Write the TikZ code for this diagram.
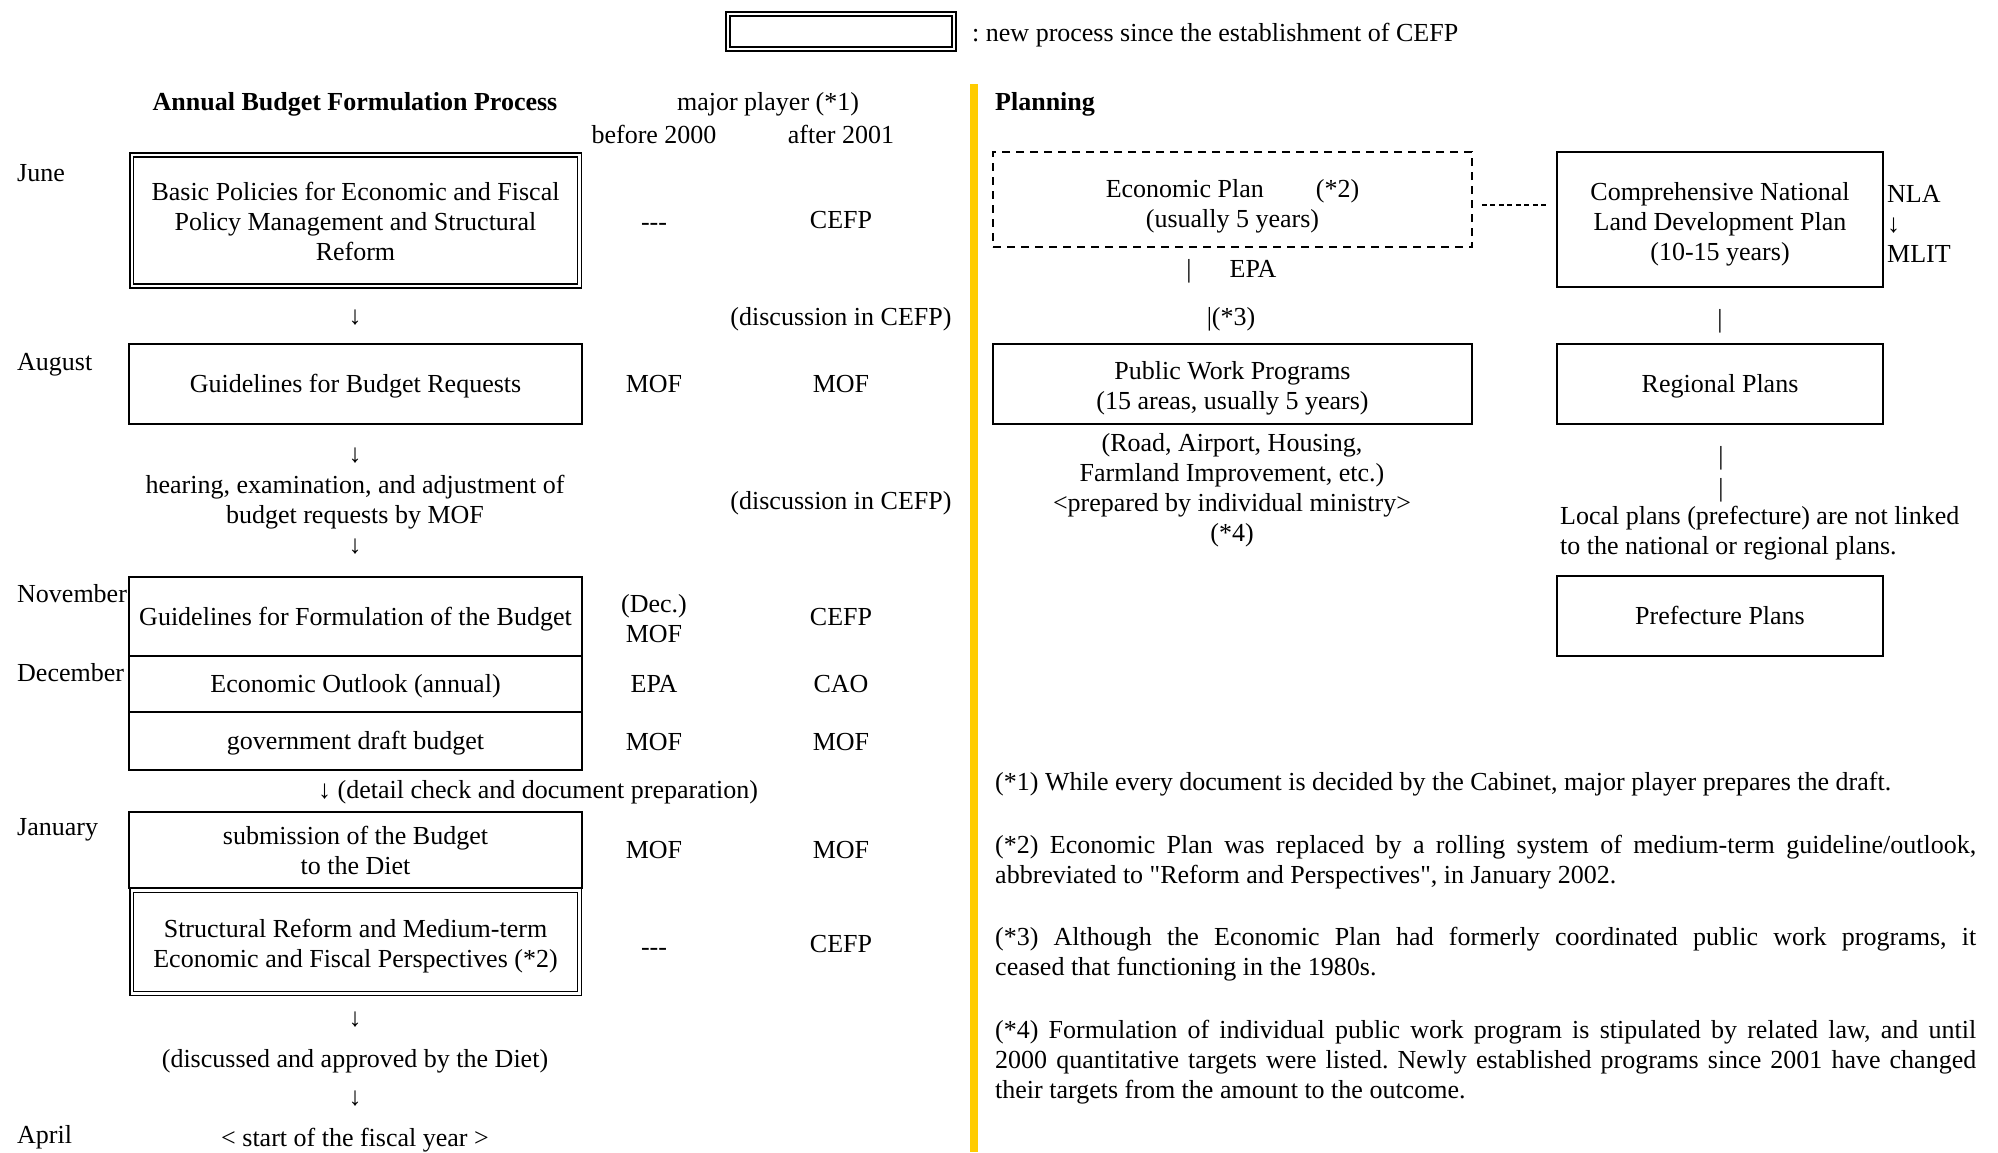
\documentclass[tikz,border=0pt]{standalone}
\usepackage{fontspec}
\setmainfont{Liberation Serif}[Ligatures=TeXOff]
\definecolor{yellowbar}{RGB}{255,204,0}
\newcommand\fsz{\fontsize{26}{30}\selectfont\frenchspacing}
\newcommand\topfill[1]{\rule{0pt}{#1}}
\begin{document}
\begin{tikzpicture}[x=1pt,y=-1pt,
  every node/.style={font=\fsz, inner sep=0pt},
  bold/.style={font=\fsz\bfseries},
  lbl/.style={text height=21pt, text depth=4pt},
  ml/.style={align=center, yshift=-2.5pt},
  mll/.style={align=left, yshift=-2.5pt},
  box/.style={draw, line width=1.6pt, minimum width=453pt, align=center},
  dbox/.style={draw, double, line width=1.4pt, double distance=2.4pt, minimum width=447.6pt, align=center},
  pbox/.style={draw, line width=1.6pt, align=center},
  dashbox/.style={pbox, dash pattern=on 8pt off 6pt},
  dotline/.style={line width=1.6pt, dash pattern=on 5pt off 3.5pt, shorten <=9pt, shorten >=8pt},
]
\useasboundingbox (0,0) rectangle (1998,1152);
\fill[white] (0,0) rectangle (1998,1152);

% legend
\node[dbox, minimum width=226pt, minimum height=35pt] (lg) at (841,31.5) {};
\node[anchor=west, lbl] (lgt) at (972,33) {: new process since the establishment of CEFP};

% yellow separator
\draw[line width=8pt, draw=yellowbar] (974,84) -- (974,1152);

% headers
\node[bold, lbl] (t1) at (355,102) {Annual Budget Formulation Process};
\node[lbl] (mp) at (768,102) {major player (*1)};
\node[lbl] (bf) at (654,135) {before 2000};
\node[lbl] (af) at (841,135) {after 2001};
\node[bold, lbl, anchor=west] (pl) at (995,102) {Planning};

% months
\node[anchor=west, lbl] (jun) at (17,173) {June};
\node[anchor=west, lbl] (aug) at (17,362) {August};
\node[anchor=west, lbl] (nov) at (17,594) {November};
\node[anchor=west, lbl] (dec) at (17,673) {December};
\node[anchor=west, lbl] (jan) at (17,827) {January};
\node[anchor=west, lbl] (apr) at (17,1135) {April};

% left boxes
\node[dbox, minimum height=131pt] (b1) at (355.5,220.5) {\topfill{21pt}Basic Policies for Economic and Fiscal\\Policy Management and Structural\\Reform};
\node[box, lbl, minimum height=80pt] (b2) at (355.5,384) {Guidelines for Budget Requests};
\node[box, lbl, minimum height=79pt] (b3) at (355.5,616.5) {Guidelines for Formulation of the Budget};
\node[box, lbl, minimum height=56pt] (b4) at (355.5,684) {Economic Outlook (annual)};
\node[box, lbl, minimum height=58pt] (b5) at (355.5,741) {government draft budget};
\node[box, minimum height=76pt] (b6) at (355.5,850) {submission of the Budget\\to the Diet};
\node[dbox, minimum height=102.8pt] (b7) at (355.5,942) {\topfill{26pt}Structural Reform and Medium-term\\Economic and Fiscal Perspectives (*2)};

% player columns
\node[lbl] (b1a) at (654,222) {---};
\node[lbl] (b1b) at (841,220) {CEFP};
\node[lbl] (a1) at (355,316) {↓};
\node[lbl] (d1) at (841,317) {(discussion in CEFP)};
\node[lbl] (b2a) at (654,384) {MOF};
\node[lbl] (b2b) at (841,384) {MOF};
\node[lbl] (a2) at (355,454) {↓};
\node[ml] (hr) at (355,500) {hearing, examination, and adjustment of\\budget requests by MOF};
\node[lbl] (a3) at (355,545) {↓};
\node[lbl] (d2) at (841,501) {(discussion in CEFP)};
\node[ml] (b3a) at (654,616.5) {(Dec.)\\MOF};
\node[lbl] (b3b) at (841,617) {CEFP};
\node[lbl] (b4a) at (654,684) {EPA};
\node[lbl] (b4b) at (841,684) {CAO};
\node[lbl] (b5a) at (654,742) {MOF};
\node[lbl] (b5b) at (841,742) {MOF};
\node[lbl, anchor=west] (dc) at (318,790) {↓ (detail check and document preparation)};
\node[lbl] (b6a) at (654,850) {MOF};
\node[lbl] (b6b) at (841,850) {MOF};
\node[lbl] (b7a) at (654,947) {---};
\node[lbl] (b7b) at (841,944) {CEFP};
\node[lbl] (a4) at (355,1018) {↓};
\node[lbl] (ap) at (355,1059) {(discussed and approved by the Diet)};
\node[lbl] (a5) at (355,1097) {↓};
\node[lbl] (fy) at (355,1138) {< start of the fiscal year >};

% planning side
\node[dashbox, minimum width=479pt, minimum height=95pt] (ep) at (1232.5,199.5) {\topfill{31pt}Economic Plan\hspace{2em}(*2)\\(usually 5 years)};
\node[pbox, minimum width=326pt, minimum height=135pt] (cn) at (1720,219.5) {\topfill{27pt}Comprehensive National\\Land Development Plan\\(10-15 years)};
\draw[dotline] ([yshift=-5.5pt]ep.east) -- ([yshift=14.5pt]cn.west);
\node[anchor=west, mll] (nl) at (1887,221) {NLA\\↓\\MLIT};
\node[lbl] (epb) at (1189,269) {|};
\node[lbl] (epa) at (1253,269) {EPA};
\node[lbl] (s3) at (1231,317) {|(*3)};
\node[lbl] (cnb) at (1720,319) {|};
\node[pbox, minimum width=479pt, minimum height=80pt] (pw) at (1232.5,384) {\topfill{27pt}Public Work Programs\\(15 areas, usually 5 years)};
\node[ml] (pwd) at (1232,488) {(Road, Airport, Housing,\\Farmland Improvement, etc.)\\<prepared by individual ministry>\\(*4)};
\node[pbox, lbl, minimum width=326pt, minimum height=80pt] (rg) at (1720,384) {Regional Plans};
\node[lbl] (rb1) at (1721,456) {|};
\node[lbl] (rb2) at (1721,488) {|};
\node[anchor=west, mll] (lp) at (1560,531) {Local plans (prefecture) are not linked\\to the national or regional plans.};
\node[pbox, lbl, minimum width=326pt, minimum height=80pt] (pf) at (1720,616) {Prefecture Plans};

% footnotes
\node[anchor=west, lbl] (f1) at (995,782) {(*1) While every document is decided by the Cabinet, major player prepares the draft.};
\node[anchor=west, mll] (f2) at (995,859.5) {\makebox[981pt][s]{(*2) Economic Plan was replaced by a rolling system of medium-term guideline/outlook,}\\abbreviated to "Reform and Perspectives", in January 2002.};
\node[anchor=west, mll] (f3) at (995,952) {\makebox[981pt][s]{(*3) Although the Economic Plan had formerly coordinated public work programs, it}\\ceased that functioning in the 1980s.};
\node[anchor=west, mll] (f4) at (995,1060) {\makebox[981pt][s]{(*4) Formulation of individual public work program is stipulated by related law, and until}\\\makebox[981pt][s]{2000 quantitative targets were listed. Newly established programs since 2001 have changed}\\their targets from the amount to the outcome.};
\end{tikzpicture}
\end{document}
